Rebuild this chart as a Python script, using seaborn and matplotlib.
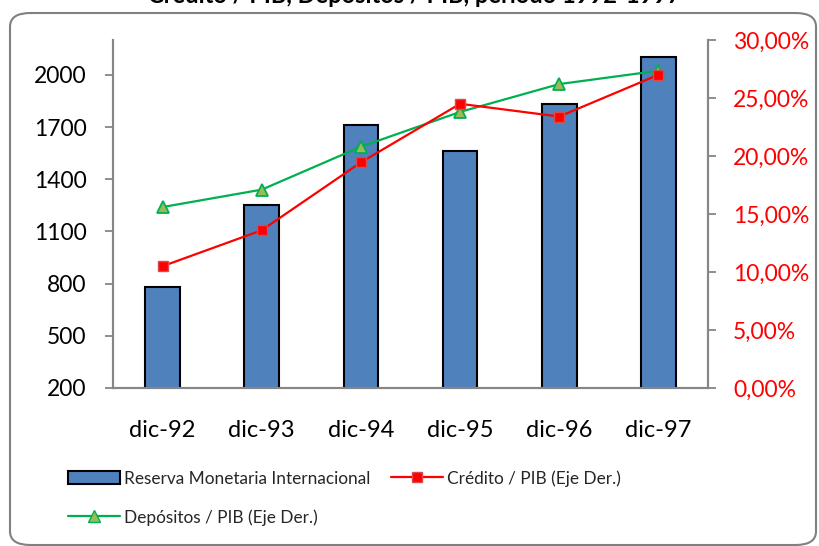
import matplotlib
matplotlib.use("Agg")
import matplotlib.pyplot as plt
from matplotlib.patches import FancyBboxPatch, Patch
from matplotlib.lines import Line2D
from matplotlib.ticker import FixedLocator, FuncFormatter
import numpy as np
import pandas as pd
import seaborn as sns

# Data
periodos = ["dic-92", "dic-93", "dic-94", "dic-95", "dic-96", "dic-97"]
reserva = [780, 1250, 1710, 1560, 1830, 2100]
credito_pib = [10.5, 13.6, 19.45, 24.5, 23.4, 27.0]
depositos_pib = [15.6, 17.1, 20.8, 23.8, 26.2, 27.35]
ticks_izq = [200, 500, 800, 1100, 1400, 1700, 2000]
ticks_der = [0, 5, 10, 15, 20, 25, 30]

titulo = "Crédito / PIB, Depósitos / PIB, período 1992-1997"
lbl_reserva = "Reserva Monetaria Internacional"
lbl_credito = "Crédito / PIB (Eje Der.)"
lbl_depositos = "Depósitos / PIB (Eje Der.)"

df = pd.DataFrame({
    "periodo": periodos,
    "reserva": reserva,
    "credito": credito_pib,
    "depositos": depositos_pib,
})

sns.set_theme(style="white")
plt.rcParams["font.family"] = ["Lato", "DejaVu Sans"]

W, H = 820, 546
fig = plt.figure(figsize=(W / 100, H / 100), dpi=100)

def fx(px):
    return px / W

def fy(py):
    return 1 - py / H

# rounded chart frame
frame = FancyBboxPatch((fx(10), fy(545)), fx(816) - fx(10), fy(13) - fy(545),
                       boxstyle="round,pad=0,rounding_size=0.025",
                       transform=fig.transFigure, facecolor="none",
                       edgecolor="#808080", linewidth=1.5, zorder=0)
fig.patches.append(frame)

# title (sits mostly above the canvas)
fig.text(fx(414), fy(3), titulo, ha="center", va="baseline",
         fontsize=17, fontweight="bold", color="black")

ax = fig.add_axes([fx(113), fy(388), fx(708) - fx(113), fy(40) - fy(388)])
ax2 = ax.twinx()

sns.barplot(data=df, x="periodo", y="reserva", ax=ax, color="#4F81BD",
            saturation=1, width=0.35, edgecolor="black", linewidth=1.5,
            zorder=2)

sns.pointplot(data=df, x="periodo", y="depositos", ax=ax2, color="#00B050",
              markers="^", linestyles="-", errorbar=None, linewidth=1.6,
              markersize=8, markerfacecolor="#9BBB59",
              markeredgecolor="#00B050", markeredgewidth=1.3)
sns.pointplot(data=df, x="periodo", y="credito", ax=ax2, color="#FF0000",
              markers="s", linestyles="-", errorbar=None, linewidth=1.6,
              markersize=7, markerfacecolor="#FF0000",
              markeredgecolor="#D84B4B", markeredgewidth=1.0)

ax.set_ylim(200, 2200)
ax2.set_ylim(0, 30)
ax.set_xlim(-0.5, 5.5)
ax2.set_xlim(-0.5, 5.5)

ax.set_xlabel("")
ax.set_ylabel("")
ax2.set_xlabel("")
ax2.set_ylabel("")

ax.yaxis.set_major_locator(FixedLocator(ticks_izq))
ax2.yaxis.set_major_locator(FixedLocator(ticks_der))
ax2.yaxis.set_major_formatter(
    FuncFormatter(lambda v, p: f"{v:.2f}".replace(".", ",") + "%"))

ax.set_xticks(range(len(periodos)))
ax.set_xticklabels(periodos)
ax.set_xticks(np.arange(-0.5, len(periodos), 1.0), minor=True)

gris = "#868686"
for a in (ax, ax2):
    a.grid(False)
    a.set_facecolor("none")
    for s in a.spines.values():
        s.set_color(gris)
        s.set_linewidth(1.5)
    a.spines["top"].set_visible(False)

ax.tick_params(axis="x", which="major", length=0, pad=23, labelsize=17,
               labelcolor="black")
ax.tick_params(axis="x", which="minor", length=6, width=1.3, color=gris,
               direction="out")
ax.tick_params(axis="y", length=6, width=1.3, color=gris, direction="out",
               labelsize=16.5, labelcolor="black", pad=13, left=True)
ax2.tick_params(axis="y", length=6, width=1.3, color=gris, direction="out",
                labelsize=16.5, labelcolor="#FF0000", pad=12, right=True)
ax2.tick_params(axis="x", which="both", length=0, labelbottom=False)

handles = [
    Patch(facecolor="#4F81BD", edgecolor="black", linewidth=1.5),
    Line2D([], [], color="#00B050", lw=1.6, marker="^", markersize=8,
           markerfacecolor="#9BBB59", markeredgecolor="#00B050"),
    Line2D([], [], color="#FF0000", lw=1.6, marker="s", markersize=7,
           markerfacecolor="#FF0000", markeredgecolor="#D84B4B"),
]
labels = [lbl_reserva, lbl_depositos, lbl_credito]
fig.legend(handles, labels, ncol=2, loc="upper left",
           bbox_to_anchor=(fx(68), fy(470)), frameon=False, fontsize=12.4,
           handlelength=3.0, handleheight=0.8, handletextpad=0.25,
           columnspacing=1.2, labelspacing=1.3, borderpad=0,
           borderaxespad=0)

fig.savefig("out.png", dpi=100)
